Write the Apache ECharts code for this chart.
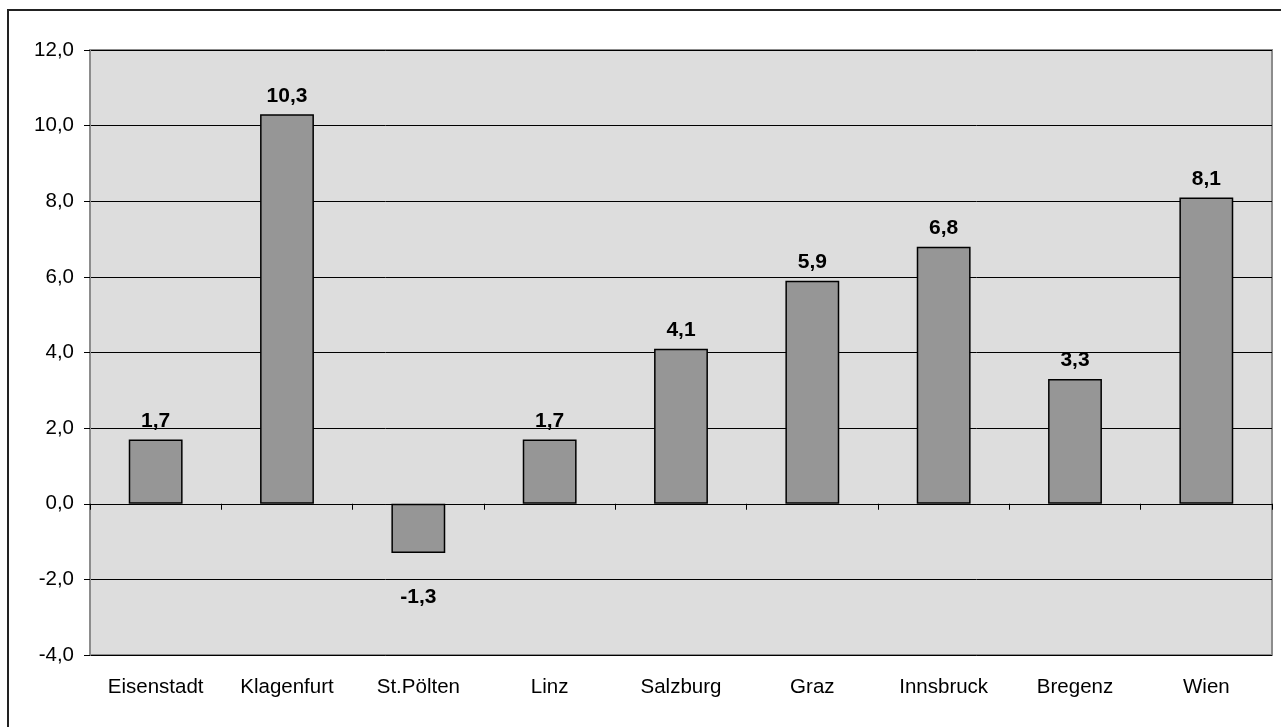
<!DOCTYPE html>
<html>
<head>
<meta charset="utf-8">
<script src="https://cdn.jsdelivr.net/npm/echarts@6/dist/echarts.min.js"></script>
<style>
	html,body{margin:0;padding:0;background:#fff;}
	#chart{width:1281px;height:727px;}
</style>
</head>
<body>
<div id="chart"></div>
<script>
	// Landeshauptstaedte und Werte
	var cities=['Eisenstadt','Klagenfurt','St.Pölten','Linz','Salzburg','Graz','Innsbruck','Bregenz','Wien'];
	var values=[1.7,10.3,-1.3,1.7,4.1,5.9,6.8,3.3,8.1];
	var yMin=-4, yMax=12, yStep=2;

	function fmt(v){
		return v.toFixed(1).replace('.',',');
	}

	var barData=[];
	for(var i=0;i<values.length;i++)
	{
		var item={value:values[i]};
		if(values[i]<0)
		{
			item.label={position:'bottom',distance:34};
		}
		barData.push(item);
	}

	var font='"Liberation Sans", Arial, sans-serif';
	var myChart=echarts.init(document.getElementById('chart'));
	var option={
		backgroundColor:'#fff',
		animation:false,
		graphic:[{
			type:'rect',
			shape:{x:8,y:10,width:1400,height:900},
			style:{fill:'none',stroke:'#222',lineWidth:2},
			silent:true
		}],
		grid:{
			left:90,
			right:9,
			top:50,
			bottom:72,
			show:true,
			backgroundColor:'#DDDDDD',
			borderColor:'#8c8c8c',
			borderWidth:2
		},
		xAxis:[
			{
				type:'category',
				data:cities,
				axisLine:{show:false,onZero:false},
				axisTick:{show:false},
				axisLabel:{color:'#000',fontSize:20.5,fontFamily:font,margin:22}
			},
			{
				type:'category',
				data:cities,
				position:'bottom',
				axisLine:{show:true,onZero:true,lineStyle:{color:'#000',width:1}},
				axisTick:{show:true,length:6,lineStyle:{color:'#000'}},
				axisLabel:{show:false}
			}
		],
		yAxis:{
			type:'value',
			min:yMin,
			max:yMax,
			interval:yStep,
			axisLine:{show:true,lineStyle:{color:'#8c8c8c',width:2}},
			axisTick:{show:true,length:6,lineStyle:{color:'#000'}},
			splitLine:{show:true,lineStyle:{color:'#000',width:1}},
			axisLabel:{
				color:'#000',fontSize:20.5,fontFamily:font,margin:16,
				formatter:function(v){return fmt(v);}
			}
		},
		series:[{
			type:'bar',
			xAxisIndex:0,
			data:barData,
			barWidth:'41%',
			itemStyle:{color:'#969696',borderColor:'#000',borderWidth:1.5},
			label:{
				show:true,
				position:'top',
				distance:8,
				color:'#000',
				fontWeight:'bold',
				fontSize:21,
				fontFamily:font,
				formatter:function(p){return fmt(p.value);}
			}
		}]
	};
	myChart.setOption(option);
</script>
</body>
</html>
